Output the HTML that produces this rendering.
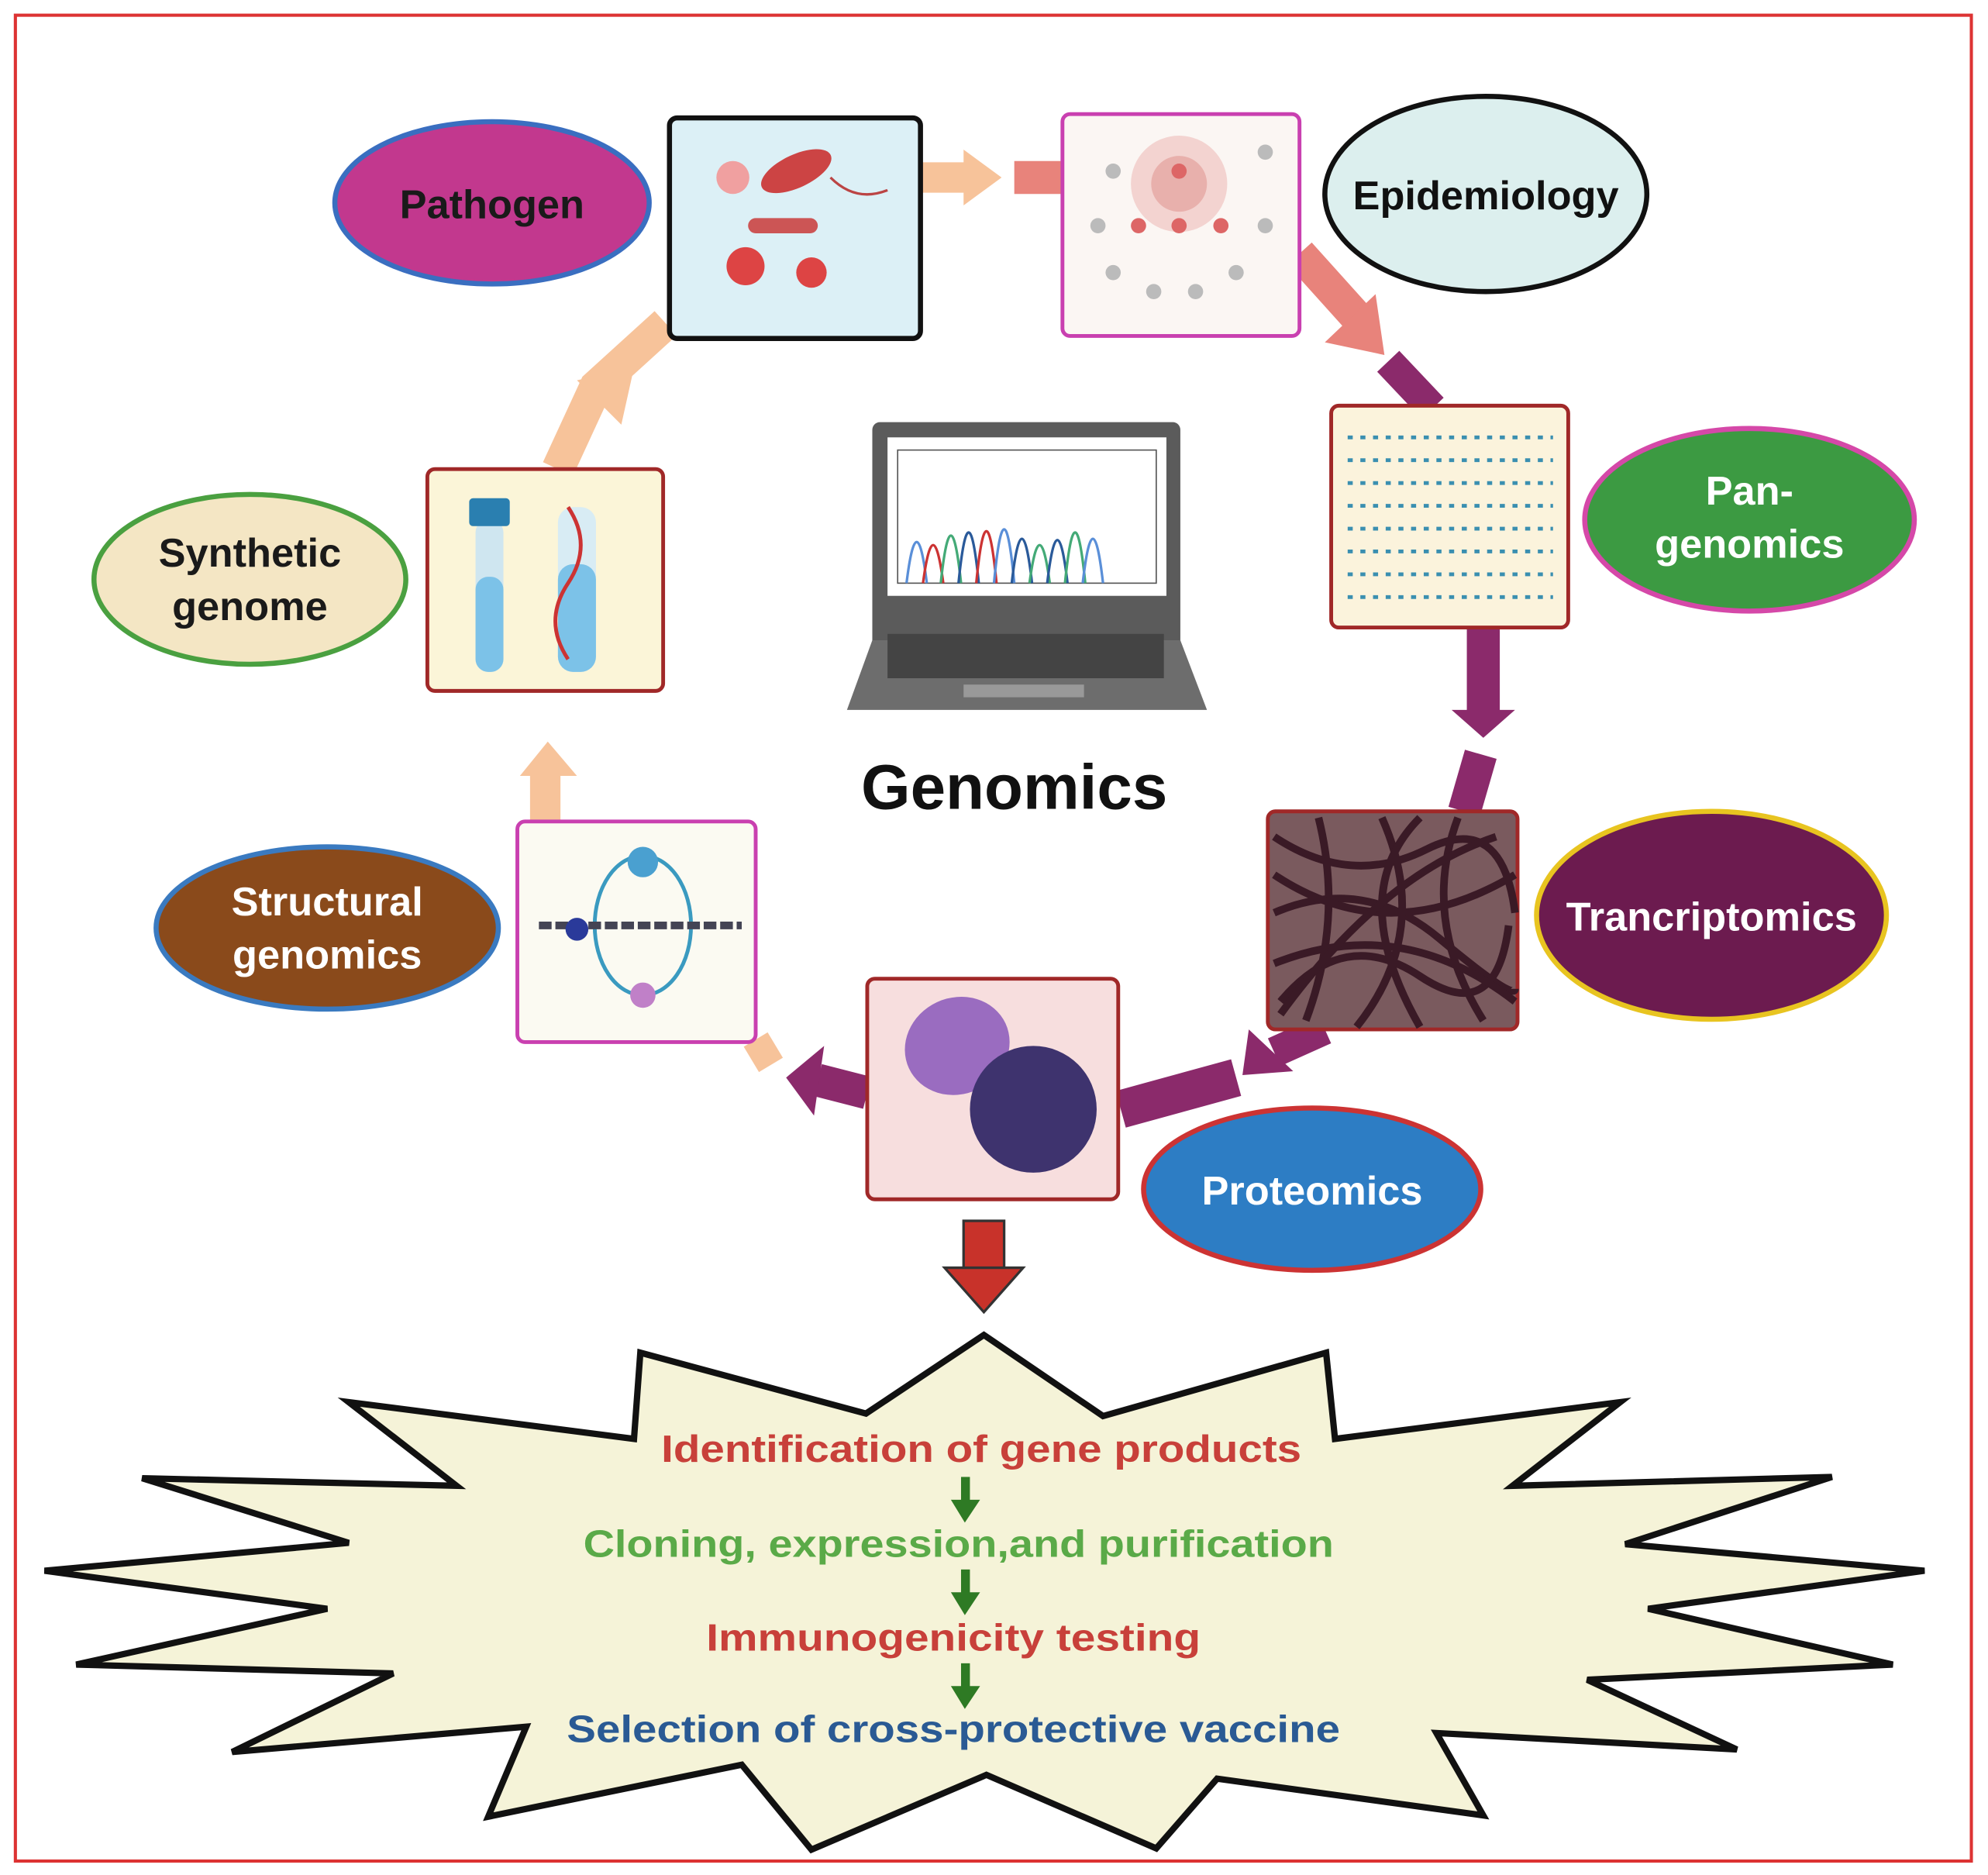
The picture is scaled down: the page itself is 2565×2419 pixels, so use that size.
<!DOCTYPE html>
<html><head><meta charset="utf-8"><style>
html,body{margin:0;padding:0;background:#fff;}
svg{display:block;}
text{font-family:"Liberation Sans",sans-serif;font-weight:bold;}
</style></head><body>
<svg width="2565" height="2419" viewBox="0 0 1568 1479" xmlns="http://www.w3.org/2000/svg">
<rect x="0" y="0" width="1568" height="1479" fill="#fff"/>
<rect x="12" y="12" width="1543" height="1456" fill="none" stroke="#d33" stroke-width="2.5"/>

<g fill="none" stroke-linejoin="miter">
 <path d="M726,140 L765,140" stroke="#f7c39a" stroke-width="24"/>
 <polygon points="760,118 790,140 760,162" fill="#f7c39a"/>
 <path d="M440,370 L470,305 L525,255" stroke="#f7c39a" stroke-width="26"/>
 <polygon points="455,300 500,290 490,335" fill="#f7c39a"/>
 <path d="M430,648 L430,610" stroke="#f7c39a" stroke-width="24"/>
 <polygon points="410,612 432,585 455,612" fill="#f7c39a"/>
 <path d="M596,820 L608,840" stroke="#f7c39a" stroke-width="22"/>
 <path d="M800,140 L838,140" stroke="#e8837b" stroke-width="26"/>
 <path d="M1025,200 L1070,250" stroke="#e8837b" stroke-width="26"/>
 <polygon points="1045,270 1092,280 1085,232" fill="#e8837b"/>
 <path d="M1095,285 L1130,322" stroke="#8b2a6b" stroke-width="24"/>
 <path d="M1170,495 L1170,565" stroke="#8b2a6b" stroke-width="26"/>
 <polygon points="1145,560 1195,560 1170,582" fill="#8b2a6b"/>
 <path d="M1168,595 L1155,640" stroke="#8b2a6b" stroke-width="26"/>
 <path d="M1045,812 L1005,830" stroke="#8b2a6b" stroke-width="24"/>
 <polygon points="985,812 980,848 1020,845" fill="#8b2a6b"/>
 <path d="M884,875 L975,850" stroke="#8b2a6b" stroke-width="30"/>
 <path d="M684,862 L645,852" stroke="#8b2a6b" stroke-width="26"/>
 <polygon points="650,825 620,850 642,880" fill="#8b2a6b"/>
</g>

<rect x="528" y="93" width="198" height="174" rx="6" fill="#dcf0f6" stroke="#111" stroke-width="4"/>
<circle cx="578" cy="140" r="13" fill="#f0a0a0"/>
<ellipse cx="628" cy="135" rx="30" ry="13" fill="#c44" transform="rotate(-25 628 135)"/>
<path d="M655,140 q20,20 45,10" stroke="#b44" stroke-width="2" fill="none"/>
<rect x="590" y="172" width="55" height="12" rx="6" fill="#c55"/>
<circle cx="588" cy="210" r="15" fill="#d44"/>
<circle cx="640" cy="215" r="12" fill="#d44"/>

<rect x="838" y="90" width="187" height="175" rx="6" fill="#fbf6f3" stroke="#c940b0" stroke-width="3"/>
<circle cx="930" cy="145" r="38" fill="#f3d3d0"/>
<circle cx="930" cy="145" r="22" fill="#e8b0ac"/>
<g fill="#bbb"><circle cx="878" cy="135" r="6"/><circle cx="998" cy="120" r="6"/><circle cx="866" cy="178" r="6"/><circle cx="998" cy="178" r="6"/><circle cx="878" cy="215" r="6"/><circle cx="910" cy="230" r="6"/><circle cx="943" cy="230" r="6"/><circle cx="975" cy="215" r="6"/></g>
<g fill="#d66"><circle cx="930" cy="135" r="6"/><circle cx="898" cy="178" r="6"/><circle cx="930" cy="178" r="6"/><circle cx="963" cy="178" r="6"/></g>

<rect x="1050" y="320" width="187" height="175" rx="6" fill="#fbf3dc" stroke="#a02828" stroke-width="3"/>
<g stroke="#3a8fb0" stroke-width="3" stroke-dasharray="4 6">
 <line x1="1063" y1="345" x2="1225" y2="345"/><line x1="1063" y1="363" x2="1225" y2="363"/><line x1="1063" y1="381" x2="1225" y2="381"/><line x1="1063" y1="399" x2="1225" y2="399"/><line x1="1063" y1="417" x2="1225" y2="417"/><line x1="1063" y1="435" x2="1225" y2="435"/><line x1="1063" y1="453" x2="1225" y2="453"/><line x1="1063" y1="471" x2="1225" y2="471"/>
</g>

<rect x="1000" y="640" width="197" height="172" rx="6" fill="#7a5a5e" stroke="#a02828" stroke-width="3"/>
<g stroke="#3a1a26" stroke-width="6" fill="none">
 <path d="M1005,660 q60,40 120,10 t70,50"/><path d="M1005,720 q70,-30 130,20 t60,40"/><path d="M1010,790 q50,-60 110,-20 t70,-40"/><path d="M1040,645 q20,80 -10,160"/><path d="M1150,645 q-30,80 20,160"/><path d="M1005,690 q90,60 190,0"/><path d="M1090,645 q40,90 -20,165"/><path d="M1005,760 q100,-40 190,30"/><path d="M1120,645 q-60,60 0,165"/><path d="M1180,660 q-90,30 -170,140"/>
</g>

<rect x="684" y="772" width="198" height="174" rx="6" fill="#f7dede" stroke="#a02828" stroke-width="3"/>
<ellipse cx="755" cy="825" rx="42" ry="38" fill="#9a6cc0" transform="rotate(-25 755 825)"/>
<circle cx="815" cy="875" r="50" fill="#3e336e"/>

<rect x="408" y="648" width="188" height="174" rx="6" fill="#fbfaf2" stroke="#c940b0" stroke-width="3"/>
<ellipse cx="507" cy="730" rx="38" ry="55" fill="none" stroke="#3a9ac0" stroke-width="3"/>
<line x1="425" y1="730" x2="585" y2="730" stroke="#445" stroke-width="6" stroke-dasharray="10 3"/>
<circle cx="507" cy="680" r="12" fill="#4aa0d0"/>
<circle cx="455" cy="733" r="9" fill="#2a3a9a"/>
<circle cx="507" cy="785" r="10" fill="#c080c8"/>

<rect x="337" y="370" width="186" height="175" rx="6" fill="#fbf5d8" stroke="#a02828" stroke-width="3"/>
<rect x="375" y="410" width="22" height="120" rx="10" fill="#cfe6f0"/>
<rect x="375" y="455" width="22" height="75" rx="10" fill="#7cc2e8"/>
<rect x="370" y="393" width="32" height="22" rx="3" fill="#2a7fb0"/>
<rect x="440" y="400" width="30" height="130" rx="12" fill="#d8ecf4"/>
<rect x="440" y="445" width="30" height="85" rx="12" fill="#7cc2e8"/>
<path d="M448,400 q20,30 0,60 t0,60" stroke="#c33" stroke-width="3" fill="none"/>

<rect x="688" y="333" width="243" height="200" rx="6" fill="#5b5b5b"/>
<rect x="700" y="345" width="220" height="125" fill="#fff"/>
<rect x="708" y="355" width="204" height="105" fill="none" stroke="#555" stroke-width="1"/>
<g fill="none" stroke-width="2">
 <path d="M715,460 q8,-65 16,0" stroke="#5a8fd8"/><path d="M728,460 q8,-60 16,0" stroke="#c33"/><path d="M742,460 q8,-75 16,0" stroke="#4a7"/><path d="M756,460 q8,-80 16,0" stroke="#2a5a9a"/><path d="M770,460 q8,-82 16,0" stroke="#c33"/><path d="M784,460 q8,-85 16,0" stroke="#5a8fd8"/><path d="M798,460 q8,-70 16,0" stroke="#2a5a9a"/><path d="M812,460 q8,-60 16,0" stroke="#4a7"/><path d="M826,460 q8,-68 16,0" stroke="#2a5a9a"/><path d="M840,460 q8,-80 16,0" stroke="#4a7"/><path d="M854,460 q8,-70 16,0" stroke="#5a8fd8"/>
</g>
<polygon points="688,505 931,505 952,560 668,560" fill="#6d6d6d"/>
<rect x="700" y="500" width="218" height="35" fill="#444"/>
<rect x="760" y="540" width="95" height="10" fill="#999"/>
<text x="800" y="638" font-size="50" text-anchor="middle" fill="#111">Genomics</text>

<ellipse cx="388" cy="160" rx="124" ry="64" fill="#c2388e" stroke="#3a6ec0" stroke-width="4"/>
<text x="388" y="172" font-size="32" text-anchor="middle" fill="#1a1a1a">Pathogen</text>
<ellipse cx="1172" cy="153" rx="127" ry="77" fill="#dcefee" stroke="#111" stroke-width="4"/>
<text x="1172" y="165" font-size="32" text-anchor="middle" fill="#111">Epidemiology</text>
<ellipse cx="1380" cy="410" rx="130" ry="72" fill="#3c9a42" stroke="#d548a8" stroke-width="4"/>
<text x="1380" y="398" font-size="32" text-anchor="middle" fill="#fff">Pan-</text>
<text x="1380" y="440" font-size="32" text-anchor="middle" fill="#fff">genomics</text>
<ellipse cx="1350" cy="722" rx="138" ry="82" fill="#6c1b4f" stroke="#e8c420" stroke-width="4"/>
<text x="1350" y="734" font-size="32" text-anchor="middle" fill="#fff">Trancriptomics</text>
<ellipse cx="1035" cy="938" rx="133" ry="64" fill="#2d7dc4" stroke="#c33" stroke-width="4"/>
<text x="1035" y="950" font-size="32" text-anchor="middle" fill="#fff">Proteomics</text>
<ellipse cx="258" cy="732" rx="135" ry="64" fill="#8a4a1b" stroke="#3a7ac0" stroke-width="4"/>
<text x="258" y="722" font-size="32" text-anchor="middle" fill="#fff">Structural</text>
<text x="258" y="764" font-size="32" text-anchor="middle" fill="#fff">genomics</text>
<ellipse cx="197" cy="457" rx="123" ry="67" fill="#f4e6c4" stroke="#4aa040" stroke-width="4"/>
<text x="197" y="447" font-size="32" text-anchor="middle" fill="#1a1a1a">Synthetic</text>
<text x="197" y="489" font-size="32" text-anchor="middle" fill="#1a1a1a">genome</text>

<rect x="760" y="963" width="32" height="38" fill="#c8322a" stroke="#333" stroke-width="2"/>
<polygon points="745,1000 807,1000 776,1035" fill="#c8322a" stroke="#333" stroke-width="2"/>

<polygon fill="#f5f3d8" stroke="#111" stroke-width="5" stroke-linejoin="miter" points="776,1053 870,1117 1046,1067 1053,1135 1278,1106 1193,1172 1445,1165 1282,1218 1518,1239 1300,1269 1493,1313 1252,1325 1370,1380 1133,1367 1170,1432 960,1403 912,1458 778,1400 640,1459 585,1392 385,1433 415,1362 183,1382 310,1320 60,1313 258,1269 35,1239 275,1217 112,1166 360,1172 275,1106 500,1135 505,1067 683,1115"/>
<text x="774" y="1153" font-size="30" text-anchor="middle" fill="#c8403a" textLength="505" lengthAdjust="spacingAndGlyphs">Identification of gene products</text>
<text x="756" y="1228" font-size="30" text-anchor="middle" fill="#5aaa48" textLength="592" lengthAdjust="spacingAndGlyphs">Cloning, expression,and purification</text>
<text x="752" y="1302" font-size="30" text-anchor="middle" fill="#c8403a" textLength="390" lengthAdjust="spacingAndGlyphs">Immunogenicity testing</text>
<text x="752" y="1374" font-size="30" text-anchor="middle" fill="#2a5a94" textLength="610" lengthAdjust="spacingAndGlyphs">Selection of cross-protective vaccine</text>
<g fill="#2e7a24">
 <rect x="758" y="1165" width="7" height="22"/><polygon points="750,1183 773,1183 761,1201"/>
 <rect x="758" y="1238" width="7" height="22"/><polygon points="750,1256 773,1256 761,1274"/>
 <rect x="758" y="1312" width="7" height="22"/><polygon points="750,1330 773,1330 761,1348"/>
</g>
</svg>
</body></html>
